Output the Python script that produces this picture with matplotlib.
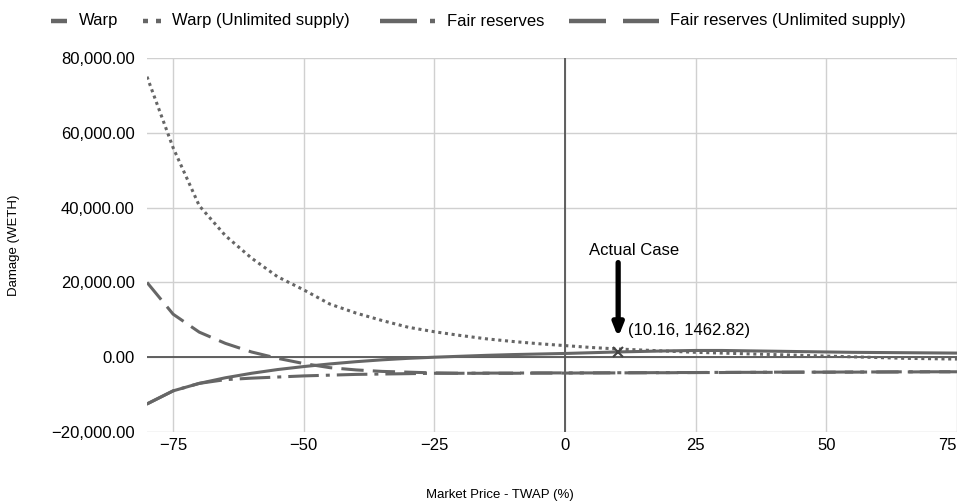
import matplotlib.pyplot as plt
import matplotlib.ticker as mticker
from matplotlib.lines import Line2D

plt.rcParams["font.family"] = ["Liberation Sans", "DejaVu Sans"]

# Data
price = list(range(-80, 80, 5))
warp = [-12500, -9000, -7000, -5500, -4300, -3300, -2500, -1800, -1200, -700,
        -300, 0, 250, 500, 700, 850, 1000, 1200, 1400, 1550, 1700, 1800,
        1800, 1700, 1600, 1500, 1400, 1300, 1250, 1200, 1150, 1100]
warp_unlimited = [75000, 56000, 40500, 32500, 26500, 21500, 18000, 14200, 11800, 9800,
                  8000, 6800, 5800, 4900, 4200, 3600, 3100, 2600, 2200, 1900,
                  1600, 1300, 1100, 900, 700, 500, 300, 100, -100, -300, -400, -500]
fair = [-12500, -9000, -7000, -6000, -5600, -5300, -5000, -4800, -4600, -4500,
        -4400, -4300, -4300, -4250, -4250, -4200, -4200, -4200, -4150, -4150,
        -4100, -4100, -4050, -4050, -4000, -4000, -4000, -3950, -3950, -3900, -3900, -3900]
fair_unlimited = [20000, 11500, 6700, 3700, 1400, -300, -1700, -2800, -3400, -3800,
                  -4000, -4200, -4300, -4300, -4300, -4250, -4250, -4200, -4200, -4150,
                  -4150, -4100, -4100, -4050, -4050, -4000, -4000, -4000, -3950, -3950, -3900, -3900]
actual_x, actual_y = 10.16, 1462.82

gray = "#666666"
W, H = 962, 504

fig = plt.figure(figsize=(W / 100, H / 100), dpi=100)
ax = fig.add_axes([147 / W, 1 - 432 / H, 810 / W, 374 / H])

ax.plot(price, warp, color=gray, lw=2.2, label="Warp", zorder=4)
ax.plot(price, warp_unlimited, color=gray, lw=2.2, ls=(0, (1, 1.2)),
        label="Warp (Unlimited supply)", zorder=3)
ax.plot(price, fair, color=gray, lw=2.2, ls=(0, (10, 2.3, 1.3, 2.3)),
        label="Fair reserves", zorder=3)
ax.plot(price, fair_unlimited, color=gray, lw=2.2, ls=(0, (7.3, 3)),
        label="Fair reserves (Unlimited supply)", zorder=3)

# axes through the origin
ax.axhline(0, color="#555555", lw=1.3, zorder=2)
ax.axvline(0, color="#555555", lw=1.3, zorder=2)

# actual case marker and annotation
ax.plot(actual_x, actual_y, marker="x", color="#444444", ms=7, mew=1.5, zorder=5)
ax.annotate("", xy=(actual_x, 5300), xytext=(actual_x, 25300),
            arrowprops=dict(arrowstyle="-|>,head_width=0.3,head_length=0.75",
                            color="black", lw=3.8, shrinkA=0, shrinkB=0))
ax.text(actual_x + 3.0, 28500, "Actual Case", fontsize=12, ha="center", va="center")
ax.text(actual_x + 1.9, 7200, "(%.2f, %.2f)" % (actual_x, actual_y),
        fontsize=12, ha="left", va="center")

ax.set_xlim(-80, 75)
ax.set_ylim(-20000, 80000)
ax.set_xticks([-75, -50, -25, 0, 25, 50, 75])
ax.set_yticks([-20000, 0, 20000, 40000, 60000, 80000])
ax.yaxis.set_major_formatter(mticker.FuncFormatter(
    lambda v, p: ("\u2212" if v < 0 else "") + "{:,.2f}".format(abs(v))))
ax.xaxis.set_major_formatter(mticker.FuncFormatter(
    lambda v, p: ("\u2212" if v < 0 else "") + "{:d}".format(int(abs(v)))))
ax.grid(True, color="#d0d0d0", lw=1, zorder=0)
for s in ax.spines.values():
    s.set_visible(False)
ax.tick_params(axis="y", length=0, labelsize=12, pad=9)
ax.tick_params(axis="x", length=0, labelsize=12, pad=4)
ax.get_xticklabels()[-1].set_ha("right")

ax.set_ylabel("Damage (WETH)", fontsize=9.5, labelpad=22)
fig.text(500 / W, 1 - 495 / H, "Market Price - TWAP (%)", fontsize=9.5,
         ha="center", va="center")

# legend drawn by hand so the handles look like the reference
ly = 1 - 21 / H
handles = [
    ([(51, 67)], "Warp", 79),
    ([(143, 148), (156, 161)], "Warp (Unlimited supply)", 172),
    ([(380, 417), (430, 435)], "Fair reserves", 447),
    ([(569, 606), (623, 659)], "Fair reserves (Unlimited supply)", 670),
]
for segs, name, tx in handles:
    for x0, x1 in segs:
        fig.add_artist(Line2D([x0 / W, x1 / W], [ly, ly], transform=fig.transFigure,
                              color=gray, lw=3.2, solid_capstyle="butt"))
    fig.text(tx / W, ly, name, fontsize=12, ha="left", va="center")

fig.savefig("out.png", dpi=100)
